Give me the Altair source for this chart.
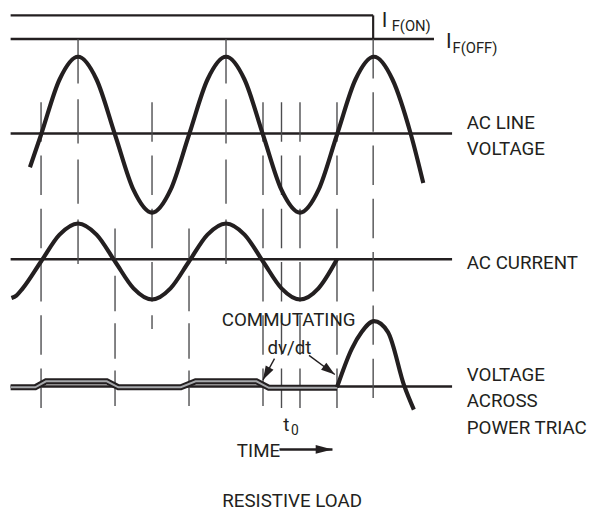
import math
import altair as alt
import pandas as pd

INK = "#231f20"
GREY = "#a7a9ac"
RULE = "#4d4d4f"
FONT = "Roboto"

# x: electrical degrees of the AC line (peaks at 90, 450, 810)
# y: vertical diagram position (larger = lower on the page)
X_DOMAIN = [-80.4, 1338.0]
Y_DOMAIN = [514, 8]
W, H = 591, 506
PX_PER_DEG = W / (X_DOMAIN[1] - X_DOMAIN[0])

# ---- reference lines -------------------------------------------------------
h_start = [-74, -74, -74, -74, -74]
h_end = [808, 956, 1000, 1000, 1000]
h_level = [12, 36, 131.7, 259.3, 388.3]          # IF(ON), IF(OFF), V axis, I axis, triac axis
h_width = [2.5, 2.5, 2.5, 2.5, 2.5]

step_deg = [808]
step_top = [12]
step_bottom = [36]

# ---- vertical timing markers (dashed) ---------------------------------------
vert_deg = [0, 90, 180, 270, 360, 450, 540, 585, 630, 720, 808]
vert_top = [100, 36, 228, 100, 228, 36, 100, 100, 100, 100, 36]
vert_bottom = [410, 265, 408, 330, 408, 265, 408, 410, 410, 410, 408]
vert_style = ["a", "b", "c", "a", "c", "b", "a", "a", "a", "a", "a"]
DASHES = {"a": [40, 14], "b": [45, 16], "c": [36, 12]}

# ---- AC line voltage --------------------------------------------------------
volt_deg = [-27, 0, 45, 90, 135, 180, 225, 270, 315, 360, 405, 450, 495, 540,
            585, 630, 675, 720, 765, 810, 855, 900, 930]
volt_lvl = [166, 133, 77, 54, 77, 133, 189, 212, 189, 133, 77, 54, 77, 133,
            189, 212, 189, 133, 77, 54, 77, 133, 182]

# ---- AC current -------------------------------------------------------------
cur_deg = [-72, -60, -45, 0, 45, 90, 135, 180, 225, 270, 315, 360, 405, 450,
           495, 540, 585, 630, 675, 720]
cur_lvl = [298.5, 296, 289, 261.5, 234.3, 223, 234.3, 261.5, 288.7, 300, 288.7,
           261.5, 234.3, 223, 234.3, 261.5, 288.7, 300, 288.7, 259.3]

# ---- voltage across triac ---------------------------------------------------
tri_deg = [-74, -14, 12, 160, 188, 340, 376, 524, 554, 720]
tri_lvl = [389, 389, 383, 383, 389, 389, 383, 383, 389.5, 389.5]

pulse_deg = [720, 756, 780, 810, 844, 884, 907]
pulse_lvl = [389, 350, 333, 322, 333, 388, 411.7]

# ---- arrows -----------------------------------------------------------------
arrow_from_deg = [568, 652, 580]
arrow_from_lvl = [360, 356.7, 452]
arrow_to_deg = [540, 714.7, 709]
arrow_to_lvl = [381.5, 376, 452]
arrow_width = [1.4, 1.4, 2.5]
head_len = [14, 14, 17]

# ---- labels -----------------------------------------------------------------
left_text = ["AC LINE", "VOLTAGE", "AC CURRENT", "VOLTAGE", "ACROSS", "POWER TRIAC",
             "TIME", "t", "0", "I", "F(ON)", "I", "F(OFF)"]
left_x = [1035.6, 1035.6, 1035.6, 1035.6, 1035.6, 1035.6,
          476.4, 589, 608, 829, 853, 985, 1001]
left_y = [127.5, 154, 269, 383, 409, 436, 460, 433, 437.5, 23.5, 27.5, 45, 50.5]
left_size = [19, 19, 19, 19, 19, 19, 19, 19, 14, 21, 15, 21, 15]

center_text = ["COMMUTATING", "dv/dt", "RESISTIVE LOAD"]
center_x = [602.4, 604.3, 610.8]
center_y = [327.3, 355, 510]
center_size = [19, 19, 19]

# ============================================================================
xs = alt.Scale(domain=X_DOMAIN, nice=False, zero=False)
ys = alt.Scale(domain=Y_DOMAIN, nice=False, zero=False)


def X(f):
    return alt.X(f, type="quantitative", scale=xs, axis=None)


def Y(f):
    return alt.Y(f, type="quantitative", scale=ys, axis=None)


def line_layer(deg, lvl, width, color=INK, interp="linear"):
    df = pd.DataFrame({"t": deg, "v": lvl, "i": list(range(len(deg)))})
    return alt.Chart(df).mark_line(
        color=color, strokeWidth=width, interpolate=interp, strokeJoin="miter"
    ).encode(x=X("t"), y=Y("v"), order="i:Q")


layers = []

hdf = pd.DataFrame({"a": h_start, "b": h_end, "v": h_level, "w": h_width})
layers.append(
    alt.Chart(hdf).mark_rule(color=INK).encode(
        x=X("a"), x2="b", y=Y("v"), strokeWidth=alt.StrokeWidth("w:Q", scale=None)
    )
)
sdf = pd.DataFrame({"t": step_deg, "a": step_top, "b": step_bottom})
layers.append(
    alt.Chart(sdf).mark_rule(color=INK, strokeWidth=2.2).encode(x=X("t"), y=Y("a"), y2="b")
)

vdf = pd.DataFrame({"t": vert_deg, "a": vert_top, "b": vert_bottom, "s": vert_style})
for key, dash in DASHES.items():
    layers.append(
        alt.Chart(vdf).transform_filter(alt.datum.s == key)
        .mark_rule(color=RULE, strokeWidth=1.4, strokeDash=dash)
        .encode(x=X("t"), y=Y("a"), y2="b")
    )

layers.append(line_layer(volt_deg, volt_lvl, 4.2, interp="monotone"))
layers.append(line_layer(cur_deg, cur_lvl, 4.2, interp="monotone"))
layers.append(line_layer(tri_deg, tri_lvl, 6.2))
layers.append(line_layer(tri_deg, tri_lvl, 2.0, color=GREY))
layers.append(line_layer(pulse_deg, pulse_lvl, 4.2, interp="monotone"))

# arrows
adf = pd.DataFrame({"a": arrow_from_deg, "av": arrow_from_lvl,
                    "b": arrow_to_deg, "bv": arrow_to_lvl, "w": arrow_width})
layers.append(
    alt.Chart(adf).mark_rule(color=INK).encode(
        x=X("a"), y=Y("av"), x2="b", y2="bv",
        strokeWidth=alt.StrokeWidth("w:Q", scale=None)
    )
)
angles = []
for a, av, b, bv in zip(arrow_from_deg, arrow_from_lvl, arrow_to_deg, arrow_to_lvl):
    dx = (b - a) * PX_PER_DEG
    dy = (bv - av)
    angles.append(math.degrees(math.atan2(dx, -dy)) % 360)
hdf2 = pd.DataFrame({"t": arrow_to_deg, "v": arrow_to_lvl, "ang": angles, "L": head_len})
for L, half in [(14, 0.32), (17, 0.26)]:
    shape = f"M0,0L{half},1L-{half},1Z"
    layers.append(
        alt.Chart(hdf2).transform_filter(alt.datum.L == L)
        .mark_point(shape=shape, filled=True, color=INK, opacity=1,
                    size=(2 * L) ** 2, strokeWidth=0)
        .encode(x=X("t"), y=Y("v"), angle=alt.Angle("ang:Q", scale=None))
    )

ldf = pd.DataFrame({"s": left_text, "t": left_x, "v": left_y, "f": left_size})
layers.append(
    alt.Chart(ldf).mark_text(align="left", baseline="alphabetic", font=FONT, color=INK)
    .encode(x=X("t"), y=Y("v"), text="s:N", size=alt.Size("f:Q", scale=None))
)
cdf = pd.DataFrame({"s": center_text, "t": center_x, "v": center_y, "f": center_size})
layers.append(
    alt.Chart(cdf).mark_text(align="center", baseline="alphabetic", font=FONT, color=INK)
    .encode(x=X("t"), y=Y("v"), text="s:N", size=alt.Size("f:Q", scale=None))
)

chart = alt.layer(*layers).properties(
    width=W, height=H, padding=0, autosize=alt.AutoSizeParams(type="none"),
    background="white"
).configure_view(stroke=None)

chart.save("out.html", embed_options={"renderer": "svg", "actions": False})
